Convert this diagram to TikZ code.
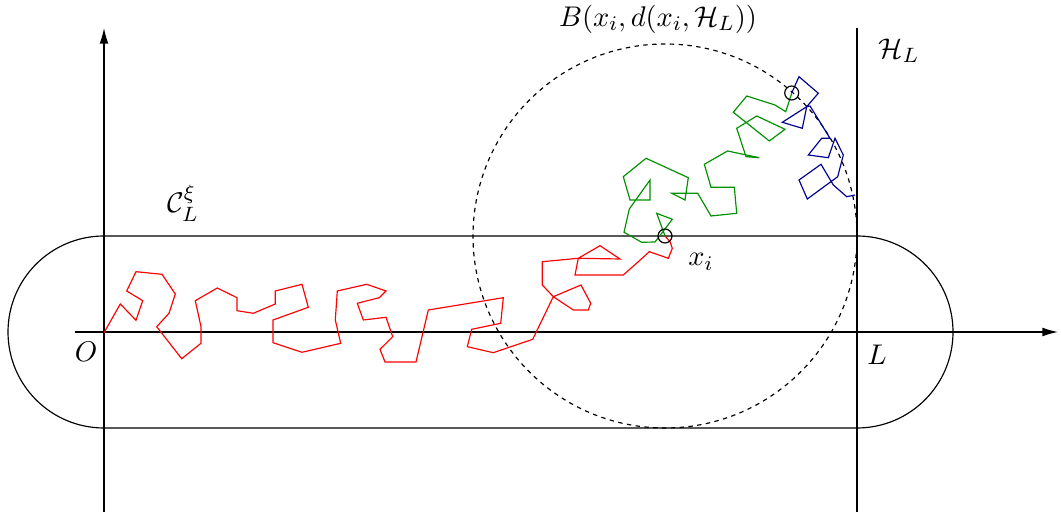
\documentclass[tikz,border=0pt]{standalone}
\usetikzlibrary{arrows.meta}
\definecolor{fred}{RGB}{255,0,0}
\definecolor{fgreen}{RGB}{0,144,0}
\definecolor{fblue}{RGB}{0,0,144}
\begin{document}
\begin{tikzpicture}[x=0.385pt,y=-0.385pt,
  thinline/.style={line width=0.45pt,black},
  axisline/.style={line width=0.5pt,black,-{Latex[length=6pt,width=3.4pt]}},
  walkred/.style={line width=0.45pt,fred,line join=miter},
  walkgreen/.style={line width=0.45pt,fgreen},
  walkblue/.style={line width=0.45pt,fblue},
  ball/.style={line width=0.45pt,black,dash pattern=on 1.7pt off 1.7pt},
  marker/.style={circle,draw,line width=0.45pt,minimum size=14*0.385pt,inner sep=0pt},
  lab/.style={inner sep=0pt,font=\fontsize{10.95}{13}\selectfont}]
\useasboundingbox (0,0) rectangle (1061,516);
% key coordinates
\coordinate (O) at (104,332);
\coordinate (Lp) at (857,332);
\coordinate (xi) at (665,236);
\coordinate (xend) at (1058,332);
\coordinate (xstart) at (75,332);
\coordinate (ytop) at (104,28);
\coordinate (ybot) at (104,512);
\coordinate (htop) at (857,28);
\coordinate (hbot) at (857,512);
% axes
\draw[axisline] (xstart) -- (xend);
\draw[axisline] (ybot) -- (ytop);
\draw[thinline] (hbot) -- (htop);
% stadium
\draw[thinline] (104,236) -- (857,236) arc[start angle=-90,end angle=90,radius=96] -- (104,428) arc[start angle=90,end angle=270,radius=96] -- cycle;
% ball
\draw[ball] (xi) circle[radius=192];
% red walk
\draw[walkred] (104,332.7) -- (120.3,304) -- (136,320.3) -- (142.7,300.7) -- (126.7,291) -- (136,271.7) -- (162,274.3) -- (175.3,294) -- (169,313.3) -- (156.7,326.7) -- (181.7,358.7) -- (201,343.3) -- (201,326.7) -- (195.3,300.7) -- (217.3,288) -- (237,297.7) -- (237,310.7) -- (253.3,313.3) -- (275.3,304) -- (275.3,291) -- (302,284.3) -- (308.3,307.3) -- (273,320) -- (273,342.7) -- (302,352.3) -- (340.7,343.3) -- (335.3,320) -- (337.3,291) -- (366.7,284.3) -- (386,291) -- (379.3,297.7) -- (357.3,303.3) -- (363.3,320) -- (386,317.3) -- (392.7,336.7) -- (380,349.3) -- (385,362) -- (416,362) -- (428.3,310) -- (503.3,297.7) -- (500.7,323.3) -- (471.7,329.3) -- (467.3,346.7) -- (493.3,352.7) -- (532.7,339.3) -- (553.3,296.7) -- (581,285) -- (590.7,303.3) -- (588.3,310) -- (573.3,310) -- (553.3,296.7) -- (542.3,285) -- (542.3,261.7) -- (578.3,258.3) -- (600,245.7) -- (620,259) -- (578.3,258.3) -- (575,275) -- (623.3,275) -- (638.3,261.7) -- (649.3,251.7) -- (668.3,258.3) -- (672.3,248.3) -- (670,241.7) -- (xi);
% green walk
\draw[walkgreen] (xi) -- (656.7,213.3) -- (672.3,219.3) -- (655,242) -- (641.7,242.3) -- (624,232.3) -- (629.3,209) -- (650,180) -- (650,200) -- (630,200) -- (623.3,176.7) -- (646,158.3) -- (688.3,177.7) -- (685,200) -- (671.7,193.3) -- (697.7,193.3) -- (711,216) -- (736.7,213.3) -- (734.3,187.3) -- (711,187.3) -- (704.3,164.3) -- (727.5,151) -- (759.3,157.7) -- (746,156.7) -- (736.7,128.3) -- (756.7,116) -- (785,129.3) -- (769.3,141) -- (733.3,112.3) -- (746.7,96) -- (775,105) -- (785.7,111.7) -- (791.7,93.3);
% blue walk
\coordinate (hit) at (791.7,93);
\draw[walkblue] (hit) -- (799,76.7) -- (818.3,93.3) -- (806.7,106.7) -- (802.3,128.3) -- (782.3,122.3) -- (806.7,106.7) -- (810,106) -- (830,138.3) -- (821.7,138.3) -- (808.3,155) -- (828.3,157.7) -- (835,138.3) -- (843.3,155) -- (837.7,176.7) -- (807.3,199) -- (799,180) -- (821,164.3) -- (833.3,185) -- (846.7,196.7) -- (855,195);
% markers
\node[marker] (mxi) at (xi) {};
\node[marker] (mhit) at (hit) {};
% labels
\node[lab] (lB) at (658,19) {$B(x_i,d(x_i,\mathcal{H}_L))$};
\node[lab] (lH) at (899,51) {$\mathcal{H}_L$};
\node[lab] (lC) at (183,203) {$\mathcal{C}_L^\xi$};
\node[lab] (lO) at (86,352) {$O$};
\node[lab] (lL) at (877,355) {$L$};
\node[lab] (lx) at (701,262) {$x_i$};
\end{tikzpicture}
\end{document}
